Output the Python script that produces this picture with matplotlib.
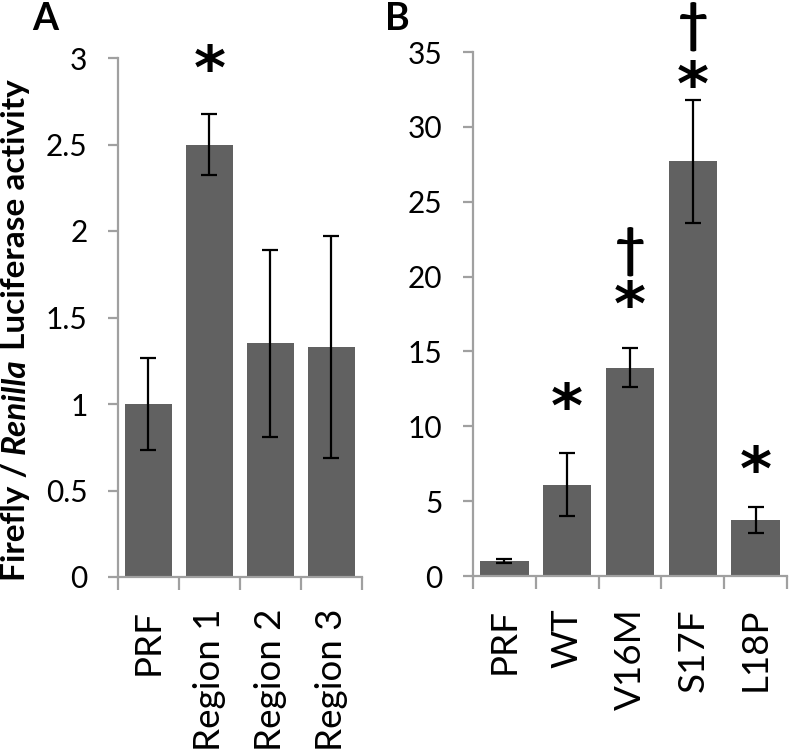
import matplotlib
matplotlib.use("Agg")
import matplotlib.pyplot as plt

# ---- data ----
cats_a = ["PRF", "Region 1", "Region 2", "Region 3"]
vals_a = [1.0, 2.5, 1.35, 1.33]
errs_a = [0.265, 0.175, 0.54, 0.64]

cats_b = ["PRF", "WT", "V16M", "S17F", "L18P"]
vals_b = [1.0, 6.1, 13.9, 27.7, 3.75]
errs_b = [0.12, 2.1, 1.3, 4.1, 0.85]

# annotations: (category index, y value, symbol)
ann_a = [(1, 2.99, "*")]
ann_b = [(1, 11.9, "*"), (2, 18.7, "*"), (2, 21.9, "\u2020"),
         (3, 33.4, "*"), (3, 36.9, "\u2020"), (4, 7.7, "*")]

yticks_a = [0, 0.5, 1, 1.5, 2, 2.5, 3]
yticklabels_a = ["0", "0.5", "1", "1.5", "2", "2.5", "3"]
yticks_b = [0, 5, 10, 15, 20, 25, 30, 35]

FONT = "Lato"
BAR = "#616161"
AXC = "#a0a0a0"

W, H = 791, 749
fig = plt.figure(figsize=(W / 100, H / 100), dpi=100)


def px_axes(x0, x1, ytop, ybot):
    return fig.add_axes([x0 / W, (H - ybot) / H, (x1 - x0) / W, (ybot - ytop) / H])


def style(ax, cats, yt, ytl, ymax):
    n = len(cats)
    ax.set_xlim(-0.5, n - 0.5)
    ax.set_ylim(0, ymax)
    for s in ["top", "right"]:
        ax.spines[s].set_visible(False)
    for s in ["left", "bottom"]:
        ax.spines[s].set_color(AXC)
        ax.spines[s].set_linewidth(1.6)
    ax.set_yticks(yt)
    ax.set_yticklabels(ytl, fontsize=21.5, family=FONT)
    ax.tick_params(axis="y", direction="out", length=7, width=1.6, color=AXC, pad=15)
    ax.set_xticks(range(n))
    ax.set_xticklabels(cats, rotation=90, fontsize=26.5, family=FONT)
    ax.tick_params(axis="x", which="major", length=0, pad=23)
    ax.set_xticks([i - 0.5 for i in range(n + 1)], minor=True)
    ax.tick_params(axis="x", which="minor", direction="out", length=9, width=1.6, color=AXC)


def annotate(ax, i, y, s):
    if s == "*":
        ax.annotate(s, (i, y), xytext=(0, -9), textcoords="offset points",
                    ha="center", va="center", fontsize=44, fontweight="bold",
                    family="DejaVu Sans", annotation_clip=False)
    else:
        ax.annotate(s, (i, y), xytext=(0, -2), textcoords="offset points",
                    ha="center", va="center", fontsize=38, fontweight="bold",
                    family=FONT, annotation_clip=False)


axA = px_axes(118, 362, 58, 577)
axA.bar(range(len(cats_a)), vals_a, width=0.78, color=BAR, zorder=2)
axA.errorbar(range(len(cats_a)), vals_a, yerr=errs_a, fmt="none", ecolor="black",
             elinewidth=1.6, capsize=5.5, capthick=1.6, zorder=3)
style(axA, cats_a, yticks_a, yticklabels_a, 3)
for i, y, s in ann_a:
    annotate(axA, i, y, s)

axB = px_axes(473, 787, 52, 576)
axB.bar(range(len(cats_b)), vals_b, width=0.77, color=BAR, zorder=2)
axB.errorbar(range(len(cats_b)), vals_b, yerr=errs_b, fmt="none", ecolor="black",
             elinewidth=1.6, capsize=5.5, capthick=1.6, zorder=3)
style(axB, cats_b, yticks_b, [str(v) for v in yticks_b], 35)
for i, y, s in ann_b:
    annotate(axB, i, y, s)

# panel letters
fig.text(32 / W, 1 - 19 / H, "A", fontsize=27, fontweight="bold", family=FONT,
         ha="left", va="center")
fig.text(385 / W, 1 - 19 / H, "B", fontsize=27, fontweight="bold", family=FONT,
         ha="left", va="center")

# y label with mixed styles, built piece by piece from bottom up
fig.canvas.draw()
r = fig.canvas.get_renderer()
pieces = [("Firefly / ", "normal"), ("Renilla", "italic"), (" Luciferase activity", "normal")]
ypos = 581
xc = 15
for txt, st in pieces:
    t = fig.text(xc / W, 1 - ypos / H, txt, rotation=90, fontsize=24, fontweight="bold",
                 style=st, family=FONT, ha="left", va="center", rotation_mode="anchor")
    bb = t.get_window_extent(r)
    ypos -= bb.height

fig.savefig("out.png", dpi=100)
